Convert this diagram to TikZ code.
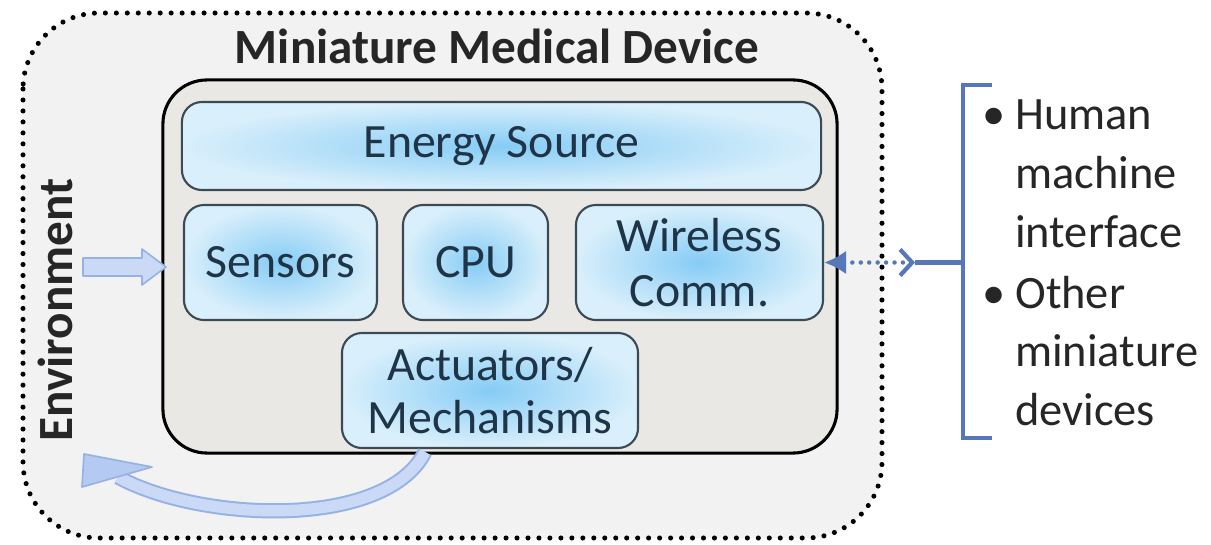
\documentclass[tikz,border=0pt]{standalone}
\usepackage{fontspec}
\setmainfont{Carlito}
\usetikzlibrary{arrows.meta}
\definecolor{outerfill}{HTML}{F2F2F2}
\definecolor{innerfill}{HTML}{EAE8E5}
\definecolor{boxin}{HTML}{86CCF5}
\definecolor{boxout}{HTML}{D9EFFB}
\definecolor{boxline}{HTML}{3C4A55}
\definecolor{boxtext}{HTML}{1F3447}
\definecolor{arrowfill}{HTML}{C9D9F6}
\definecolor{arrowhead}{HTML}{B4CAF1}
\definecolor{arrowline}{HTML}{96B2E4}
\definecolor{linkblue}{HTML}{5677B8}
\definecolor{darktext}{HTML}{262626}
\begin{document}
\begin{tikzpicture}[x=0.025cm,y=-0.025cm,
  compbox/.style={draw=boxline, line width=1.5pt, rounded corners=0.5cm,
    inner color=boxin, outer color=boxout, text=boxtext,
    font=\fontsize{34}{39}\selectfont, align=center, inner sep=0pt},
  bigtitle/.style={font=\fontsize{35}{40}\selectfont\bfseries, text=darktext, inner sep=0pt},
  listtext/.style={font=\fontsize{33}{40}\selectfont, text=darktext, inner sep=0pt, anchor=base west},
  listbullet/.style={font=\fontsize{33}{40}\selectfont, text=darktext, inner sep=0pt, anchor=base},
  envdots/.style={draw=black, line width=3.6pt, line cap=round, dash pattern=on 0pt off 7.8pt},
  blockarrow/.style={fill=arrowhead, draw=arrowline, line width=1.2pt, line join=round},
  linkline/.style={draw=linkblue, line width=3.4pt},
]
\useasboundingbox (0,0) rectangle (1211,545);
\fill[white] (0,0) rectangle (1211,545);
% environment
\node[draw=none, fill=outerfill, rounded corners=1.9cm, minimum width=21.475cm, minimum height=13.125cm, inner sep=0pt] (env) at (452.5,275.5) {};
\draw[envdots, rounded corners=1.9cm] (23,13) rectangle (882,538);
\node[bigtitle, rotate=90, anchor=base] (envlabel) at (72,310) {Environment};
% device
\node[bigtitle, anchor=base] (title) at (497,64) {Miniature Medical Device};
\node[draw=black, line width=2.2pt, fill=innerfill, rounded corners=1.1cm, minimum width=16.85cm, minimum height=9.325cm, inner sep=0pt] (device) at (500,266.5) {};
% components
\node[compbox, minimum width=15.975cm, minimum height=2.2cm] (energy) at (501.5,146) {Energy Source};
\node[compbox, minimum width=4.825cm, minimum height=2.875cm] (sensors) at (280.5,262.5) {Sensors};
\node[compbox, minimum width=3.625cm, minimum height=2.875cm] (cpu) at (475.5,262.5) {CPU};
\node[compbox, minimum width=6.175cm, minimum height=2.875cm] (wireless) at (699.5,262.5) {Wireless\\Comm.};
\node[compbox, minimum width=7.4cm, minimum height=2.875cm, font=\fontsize{34}{37.7}\selectfont] (act) at (490,390.5) {Actuators/\\Mechanisms};
% input arrow
\filldraw[blockarrow, fill=arrowfill] (83,258) -- (142,258) -- (142,249) -- (166,267) -- (142,285) -- (142,276) -- (83,276) -- cycle;
% output curved arrow
\coordinate (outstart) at (425,452);
\coordinate (outend) at (118,477);
\draw[arrowline, line width=0.38cm] (outstart) .. controls (385,530) and (200,522) .. (outend);
\draw[arrowfill, line width=0.28cm] (outstart) .. controls (385,530) and (200,522) .. (outend);
\filldraw[blockarrow] (84,454) -- (152,467) -- (82,487) -- cycle;
% wireless link and bracket
\coordinate (brk) at (915,262.5);
\coordinate (brkv) at (963,262.5);
\coordinate (brktop) at (963,85);
\coordinate (brkbot) at (963,438);
\draw[linkblue, line width=3.2pt, line cap=round, dash pattern=on 0pt off 6pt,
  {Latex[length=0.55cm,width=0.6cm]}-{Straight Barb[length=0.3cm,width=0.65cm,line width=3pt]}] (wireless.east) -- (brk);
\draw[linkline] (brk) -- (brkv);
\draw[linkline] ([xshift=0.725cm]brktop) -- (brktop) -- (brkbot) -- ([xshift=0.725cm]brkbot);
% list
\node[listbullet] (b1) at (994,130) {\textbullet};
\node[listtext] (h1) at (1015,130) {Human};
\node[listtext] (h2) at (1015,188) {machine};
\node[listtext] (h3) at (1015,247) {interface};
\node[listbullet] (b2) at (994,308) {\textbullet};
\node[listtext] (o1) at (1015,308) {Other};
\node[listtext] (o2) at (1015,366) {miniature};
\node[listtext] (o3) at (1015,425) {devices};
\end{tikzpicture}
\end{document}
